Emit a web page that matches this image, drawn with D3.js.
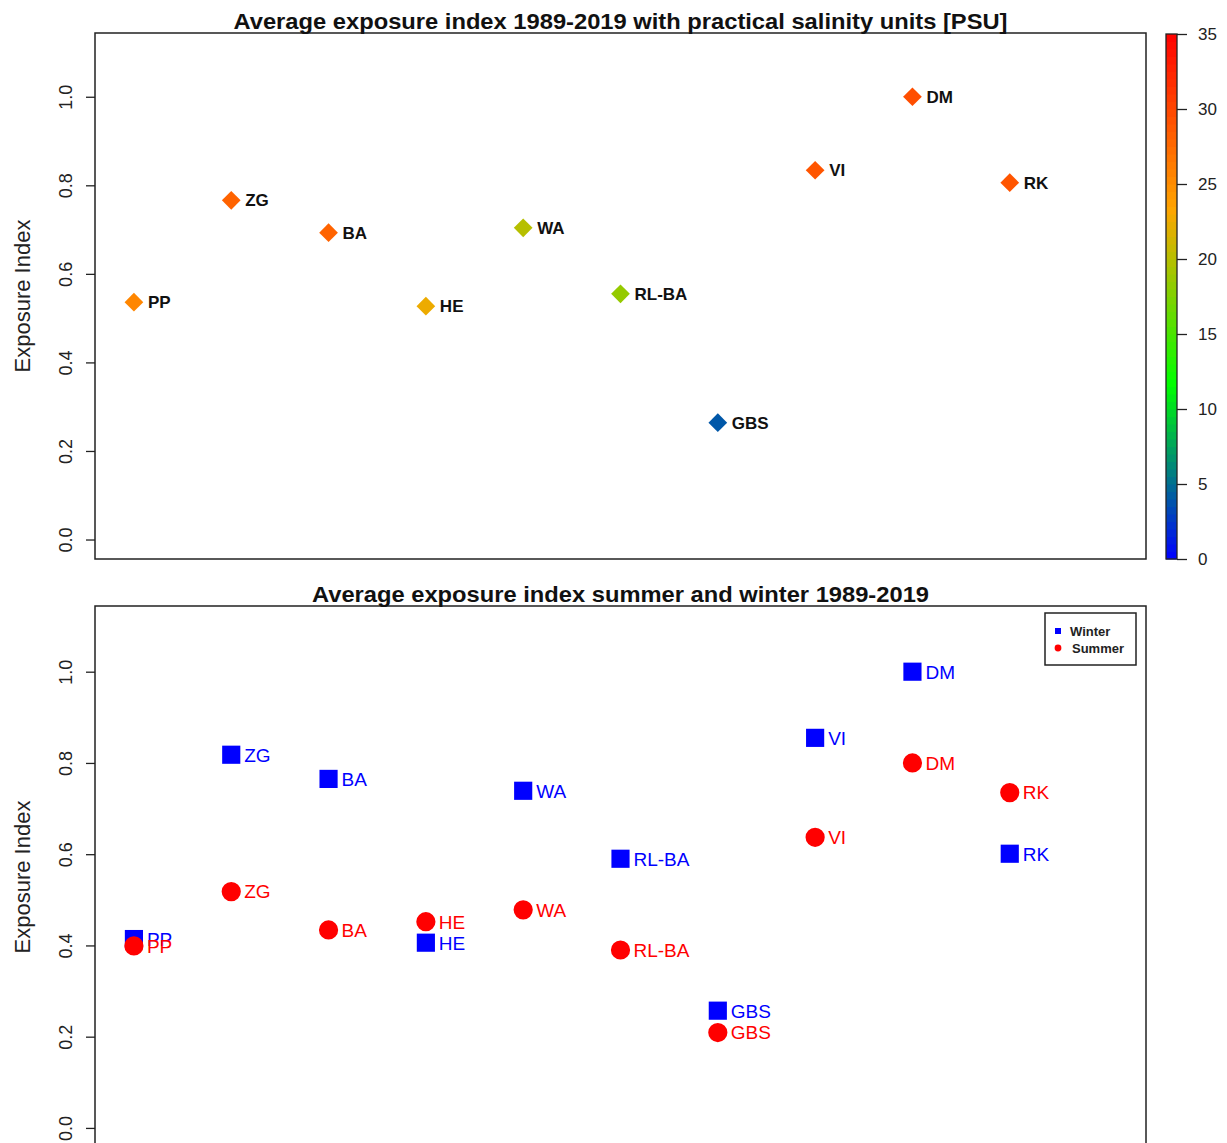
<!DOCTYPE html>
<html>
<head>
<meta charset="utf-8">
<script src="https://cdn.jsdelivr.net/npm/d3@7"></script>
<style>
  body { margin: 0; background: #fff; }
  svg { display: block; font-family: "Liberation Sans", Arial, sans-serif; }
</style>
</head>
<body>
<div id="chart"></div>
<script>
(function() {

  var width = 1227;
  var height = 1143;

  // sites along x (1..10)
  var sites = ['PP', 'ZG', 'BA', 'HE', 'WA', 'RL-BA', 'GBS', 'VI', 'DM', 'RK'];
  // average exposure index 1989-2019
  var avgIndex = [0.536, 0.766, 0.693, 0.527, 0.704, 0.555, 0.264, 0.834, 1.0, 0.806];
  // mean salinity [PSU] used for the colour of each point
  var salinity = [25.5, 28, 28, 22.5, 20, 18.5, 4, 29, 29.5, 29];
  // seasonal exposure index
  var winterIndex = [0.414, 0.818, 0.765, 0.406, 0.739, 0.590, 0.257, 0.855, 1.0, 0.601];
  var summerIndex = [0.399, 0.518, 0.434, 0.452, 0.478, 0.390, 0.209, 0.637, 0.800, 0.735];

  var yTicks = [0, 0.2, 0.4, 0.6, 0.8, 1.0];
  var salTicks = [0, 5, 10, 15, 20, 25, 30, 35];

  var salColor = d3.scaleLinear()
    .domain([0, 35 / 3, 70 / 3, 35])
    .range(['#0000ff', '#00ff00', '#ffa500', '#ff0000']);

  // R style limits: xlim c(1,11), ylim c(0,1.1), both padded by 4%
  var x = d3.scaleLinear()
    .domain([0.6, 11.4])
    .range([95, 1146]);

  var yTop = d3.scaleLinear()
    .domain([-0.044, 1.144])
    .range([559, 33]);

  var yBot = d3.scaleLinear()
    .domain([-0.044, 1.144])
    .range([1148, 606]);

  var svg = d3.select('#chart')
    .append('svg')
    .attr('width', width)
    .attr('height', height);

  function frame(y, title, titleLen) {
    var r = y.range();
    svg.append('rect')
      .attr('x', x.range()[0])
      .attr('y', r[1])
      .attr('width', x.range()[1] - x.range()[0])
      .attr('height', r[0] - r[1])
      .attr('fill', 'none')
      .attr('stroke', '#222')
      .attr('stroke-width', 1.5);

    var gy = svg.append('g')
      .attr('transform', `translate(${x.range()[0]},0)`)
      .call(d3.axisLeft(y).tickValues(yTicks).tickFormat(d3.format('.1f')).tickSize(9));
    gy.select('.domain').remove();
    gy.selectAll('line').attr('stroke', '#222').attr('stroke-width', 1.3);
    gy.selectAll('text')
      .attr('transform', 'rotate(-90)')
      .attr('x', 0)
      .attr('y', -23)
      .attr('dy', 0)
      .attr('text-anchor', 'middle')
      .attr('fill', '#222')
      .style('font-size', '18px')
      .style('font-family', '"Liberation Sans", Arial, sans-serif');

    var cy = (r[0] + r[1]) / 2;
    svg.append('text')
      .attr('transform', `translate(30,${cy}) rotate(-90)`)
      .attr('text-anchor', 'middle')
      .attr('fill', '#222')
      .style('font-size', '22px')
      .text('Exposure Index');

    svg.append('text')
      .attr('x', (x.range()[0] + x.range()[1]) / 2)
      .attr('y', r[1] - 4)
      .attr('text-anchor', 'middle')
      .attr('fill', '#111')
      .attr('textLength', titleLen)
      .attr('lengthAdjust', 'spacingAndGlyphs')
      .style('font-size', '22px')
      .style('font-weight', 'bold')
      .text(title);
  }

  // ---- top panel ----
  frame(yTop, 'Average exposure index 1989-2019 with practical salinity units [PSU]', 774);

  var diamond = d3.symbol().type(d3.symbolSquare).size(175);
  svg.append('g')
    .selectAll('path')
    .data(sites)
    .join('path')
      .attr('d', diamond)
      .attr('transform', (d, i) => `translate(${x(i + 1)},${yTop(avgIndex[i])}) rotate(45)`)
      .attr('fill', (d, i) => salColor(salinity[i]));

  svg.append('g')
    .selectAll('text')
    .data(sites)
    .join('text')
      .attr('x', (d, i) => x(i + 1) + 14)
      .attr('y', (d, i) => yTop(avgIndex[i]))
      .attr('dy', '0.36em')
      .attr('fill', '#111')
      .style('font-size', '17px')
      .style('font-weight', 'bold')
      .text(d => d);

  // colour bar
  var cb = d3.scaleLinear().domain([0, 35]).range([559, 34]);
  var nBands = 70;
  var bands = d3.range(nBands);
  svg.append('g')
    .selectAll('rect')
    .data(bands)
    .join('rect')
      .attr('x', 1166)
      .attr('y', d => cb((d + 1) * 35 / nBands))
      .attr('width', 11)
      .attr('height', d => cb(d * 35 / nBands) - cb((d + 1) * 35 / nBands) + 0.5)
      .attr('fill', d => salColor((d + 0.5) * 35 / nBands));
  svg.append('rect')
    .attr('x', 1166).attr('y', cb(35))
    .attr('width', 11).attr('height', cb(0) - cb(35))
    .attr('fill', 'none').attr('stroke', '#222').attr('stroke-width', 1.3);
  var gc = svg.append('g')
    .attr('transform', 'translate(1177,0)')
    .call(d3.axisRight(cb).tickValues(salTicks).tickSize(10).tickPadding(11));
  gc.select('.domain').remove();
  gc.selectAll('line').attr('stroke', '#222').attr('stroke-width', 1.3);
  gc.selectAll('text')
    .attr('fill', '#222')
    .style('font-size', '17px')
    .style('font-family', '"Liberation Sans", Arial, sans-serif');

  // ---- bottom panel ----
  frame(yBot, 'Average exposure index summer and winter 1989-2019', 617);

  var square = d3.symbol().type(d3.symbolSquare).size(330);
  var circle = d3.symbol().type(d3.symbolCircle).size(290);

  function season(values, sym, color) {
    svg.append('g')
      .selectAll('path')
      .data(sites)
      .join('path')
        .attr('d', sym)
        .attr('transform', (d, i) => `translate(${x(i + 1)},${yBot(values[i])})`)
        .attr('fill', color);
    svg.append('g')
      .selectAll('text')
      .data(sites)
      .join('text')
        .attr('x', (d, i) => x(i + 1) + 13)
        .attr('y', (d, i) => yBot(values[i]))
        .attr('dy', '0.36em')
        .attr('fill', color)
        .style('font-size', '19px')
        .text(d => d);
  }
  season(winterIndex, square, '#0000ff');
  season(summerIndex, circle, '#ff0000');

  // legend
  var lg = svg.append('g').attr('transform', 'translate(1045,613)');
  lg.append('rect')
    .attr('width', 91).attr('height', 52)
    .attr('fill', '#fff').attr('stroke', '#222').attr('stroke-width', 1.5);
  var legendItems = [
    {label: 'Winter', color: '#0000ff', sym: d3.symbol().type(d3.symbolSquare).size(36)},
    {label: 'Summer', color: '#ff0000', sym: d3.symbol().type(d3.symbolCircle).size(36)}
  ];
  var li = lg.selectAll('g')
    .data(legendItems)
    .join('g')
      .attr('transform', (d, i) => `translate(0,${18 + i * 17})`);
  li.append('path')
    .attr('d', d => d.sym())
    .attr('transform', 'translate(13,0)')
    .attr('fill', d => d.color);
  li.append('text')
    .attr('x', (d, i) => 25 + i * 2)
    .attr('dy', '0.36em')
    .attr('fill', '#222')
    .style('font-size', '13px')
    .style('font-weight', 'bold')
    .text(d => d.label);

})();
</script>
</body>
</html>
